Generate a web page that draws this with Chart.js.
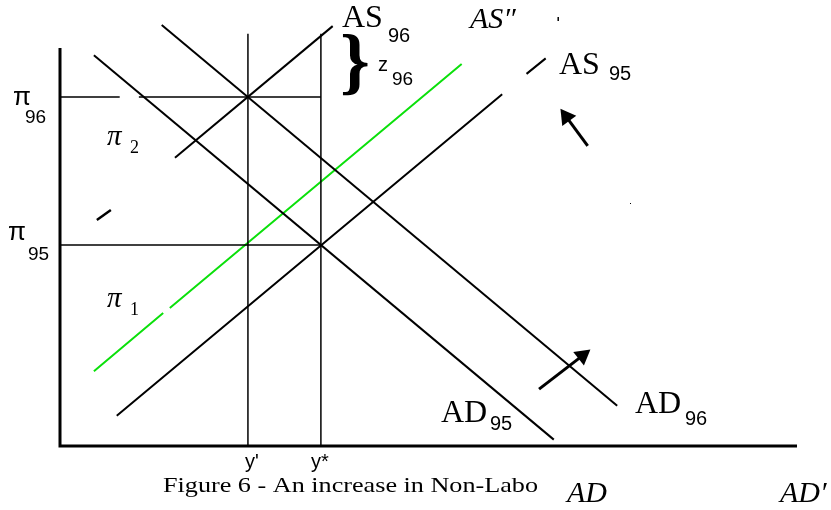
<!DOCTYPE html>
<html>
<head>
<meta charset="utf-8">
<script src="https://cdn.jsdelivr.net/npm/chart.js@4/dist/chart.umd.min.js"></script>
<style>
  html, body { margin: 0; padding: 0; background: #fff; }
  #wrap { width: 831px; height: 510px; }
</style>
</head>
<body>
<div id="wrap"><canvas id="fig" width="831" height="510"></canvas></div>
<script>
// Output (x) and inflation (y), both on a 0-100 scale
const outputLevels = [25.5, 35.4];      // y', y*
const inflationLevels = [87.7, 50.5];   // pi96, pi95
const guideTop = 103.6;

const as96X = [15.6, 37.0];
const as96Y = [72.4, 105.5];
const as95X = [7.7, 60.0, null, 63.3, 65.9];
const as95Y = [7.6, 88.4, null, 93.5, 97.4];
const ad96X = [13.8, 75.6];
const ad96Y = [105.8, 10.1];
const ad95X = [4.6, 67.0];
const ad95Y = [98.2, 1.6];
const greenX = [4.6, 14.0, null, 14.9, 54.5];
const greenY = [18.8, 33.4, null, 34.7, 96.0];

const dashX = [5.0, 6.9];
const dashY = [56.8, 59.3];
const tickX = [67.6, 67.6];
const tickY = [107.8, 106.8];

const arrowUpX = [71.6, 68.7];
const arrowUpY = [75.4, 82.7];
const arrowRightX = [65.0, 70.9];
const arrowRightY = [14.3, 22.7];

const pts = (xs, ys) => xs.map((x, i) => ({ x: x, y: x === null ? null : ys[i] }));

const seg = (data, color, width) => ({
  type: 'line',
  data: data,
  borderColor: color,
  borderWidth: width,
  pointRadius: 0,
  fill: false,
  spanGaps: false,
  clip: false,
  tension: 0
});

const arrow = (xs, ys, rot) => ({
  type: 'line',
  data: pts(xs, ys),
  borderColor: '#000',
  backgroundColor: '#000',
  borderWidth: 3,
  pointStyle: 'triangle',
  pointRadius: [0, 10],
  pointRotation: [0, rot],
  pointBorderWidth: 0,
  clip: false
});

const datasets = [
  // axes
  seg([{ x: 0, y: 100 }, { x: 0, y: 0 }, { x: 100, y: 0 }], '#000', 3),
  // guide lines
  seg([{ x: 0, y: inflationLevels[0] }, { x: 8.1, y: inflationLevels[0] }, { x: 9, y: null },
       { x: 10.7, y: inflationLevels[0] }, { x: outputLevels[1], y: inflationLevels[0] }], '#000', 1.5),
  seg([{ x: 0, y: inflationLevels[1] }, { x: outputLevels[1], y: inflationLevels[1] }], '#000', 1.5),
  seg([{ x: outputLevels[0], y: 0 }, { x: outputLevels[0], y: guideTop }], '#000', 1.5),
  seg([{ x: outputLevels[1], y: 0 }, { x: outputLevels[1], y: guideTop }], '#000', 1.5),
  // curves
  seg(pts(as96X, as96Y), '#000', 2),
  seg(pts(as95X, as95Y), '#000', 2),
  seg(pts(ad96X, ad96Y), '#000', 2),
  seg(pts(ad95X, ad95Y), '#000', 2),
  seg(pts(greenX, greenY), '#0be00b', 2),
  seg(pts(dashX, dashY), '#000', 2.5),
  seg(pts(tickX, tickY), '#000', 1.5),
  arrow(arrowUpX, arrowUpY, -36),
  arrow(arrowRightX, arrowRightY, 52)
];

const serif = '"Liberation Serif", "Times New Roman", serif';
const sans = '"Liberation Sans", Arial, sans-serif';

const labels = [
  // [text, x, y, font, align]
  ['AS', 342, 27, '32px ' + serif],
  ['96', 388, 42, '20px ' + sans],
  ['z', 378, 71, '20px ' + sans],
  ['96', 392, 85, '19px ' + sans],
  ['AS\u2033', 470, 28, 'italic 30px ' + serif],
  ['AS', 559, 74, '32px ' + serif],
  ['95', 609, 80, '20px ' + sans],
  ['\u03c0', 13, 105, '26px ' + sans],
  ['96', 25, 123, '19px ' + sans],
  ['\u03c0', 8, 240, '26px ' + sans],
  ['95', 28, 260, '19px ' + sans],
  ['\u03c0', 107, 145, 'italic 29px ' + serif],
  ['2', 130, 153, '18px ' + serif],
  ['\u03c0', 107, 307, 'italic 29px ' + serif],
  ['1', 130, 315, '18px ' + serif],
  ['AD', 441, 422, '32px ' + serif],
  ['95', 490, 430, '20px ' + sans],
  ['AD', 635, 413, '32px ' + serif],
  ['96', 685, 425, '20px ' + sans],
  ["y'", 252, 468, '20px ' + sans, 'center'],
  ['y*', 320, 468, '20px ' + sans, 'center'],
  ['AD', 567, 502, 'italic 30px ' + serif],
  ['AD\u2032', 780, 502, 'italic 30px ' + serif]
];

const caption = 'Figure 6 - An increase in Non-Labo';

const annotate = {
  id: 'annotate',
  afterDatasetsDraw(chart) {
    const ctx = chart.ctx;
    ctx.save();
    ctx.fillStyle = '#000';
    ctx.textBaseline = 'alphabetic';
    labels.forEach(([t, x, y, f, a]) => {
      ctx.font = f;
      ctx.textAlign = a || 'left';
      ctx.fillText(t, x, y);
    });
    // caption, stretched to the width of the original
    ctx.textAlign = 'left';
    ctx.font = '21px ' + serif;
    const w = ctx.measureText(caption).width;
    ctx.save();
    ctx.translate(163, 492);
    ctx.scale(375 / w, 1);
    ctx.fillText(caption, 0, 0);
    ctx.restore();
    // brace for z96
    ctx.save();
    ctx.font = 'bold 66px ' + serif;
    ctx.translate(340, 86);
    ctx.scale(1.15, 1.13);
    ctx.fillText('}', 0, 0);
    ctx.restore();
    // stray dot
    const xs = chart.scales.x, ys = chart.scales.y;
    ctx.fillRect(Math.round(xs.getPixelForValue(77.3)), Math.round(ys.getPixelForValue(61.1)), 1, 1);
    ctx.restore();
  }
};

new Chart(document.getElementById('fig'), {
  type: 'scatter',
  data: { datasets: datasets },
  options: {
    responsive: false,
    animation: false,
    events: [],
    layout: { padding: { left: 60, right: 34, top: 48, bottom: 64 } },
    plugins: { legend: { display: false }, tooltip: { enabled: false } },
    scales: {
      x: { type: 'linear', min: 0, max: 100, display: false },
      y: { type: 'linear', min: 0, max: 100, display: false }
    }
  },
  plugins: [annotate]
});
</script>
</body>
</html>
